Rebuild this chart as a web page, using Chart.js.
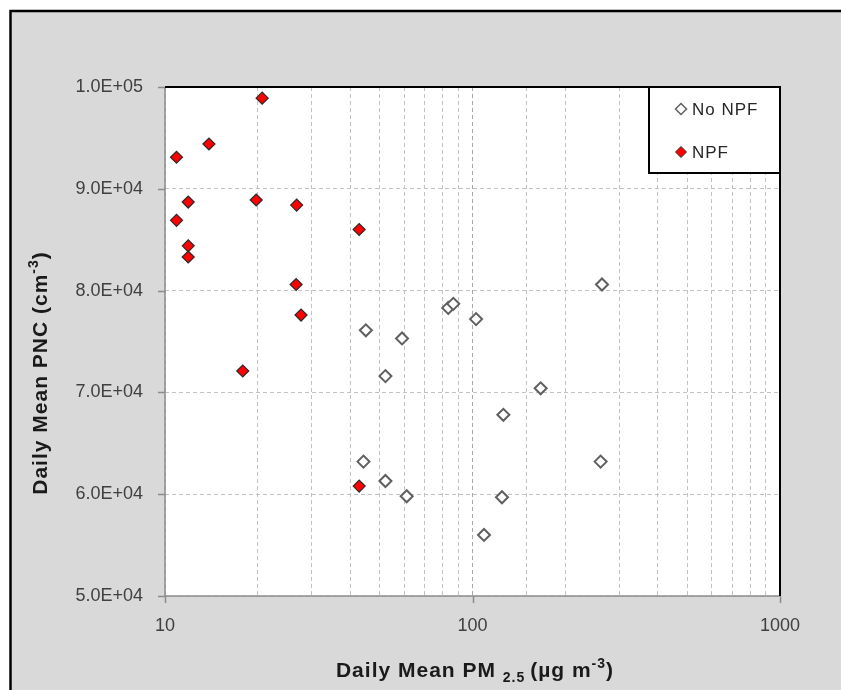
<!DOCTYPE html>
<html>
<head>
<meta charset="utf-8">
<script src="https://cdn.jsdelivr.net/npm/chart.js@4.4.0/dist/chart.umd.min.js"></script>
<style>
  html, body { margin: 0; padding: 0; background: #fff; }
</style>
</head>
<body>
<canvas id="pncChart" width="841" height="690"></canvas>
<script>
// values (PM2.5 in ug/m3, PNC in cm-3)
const noNpfPm = [45.0, 59.0, 52.1, 83.4, 86.6, 102.7, 263.7, 166.6, 126.0, 261.0, 44.2, 52.1, 61.1, 124.7, 109.0];
const noNpfPnc = [76100, 75300, 71600, 78300, 78700, 77200, 80600, 70400, 67800, 63200, 63200, 61300, 59800, 59700, 56000];
const npfPm = [20.7, 10.9, 13.9, 10.9, 11.9, 11.9, 11.9, 19.8, 26.8, 42.8, 26.7, 27.7, 17.9, 42.8];
const npfPnc = [98900, 93100, 94400, 86900, 88700, 84400, 83300, 88900, 88400, 86000, 80600, 77600, 72100, 60800];

const seriesLabels = ['No NPF', 'NPF'];
const xTickLabels = [10, 100, 1000];
const yTickValues = [50000, 60000, 70000, 80000, 90000, 100000];

const xTitle = [['Daily Mean PM ', 0], ['2.5 ', 1], ['(\u00b5g m', 0], ['-3', -1], [')', 0]];
const yTitle = [['Daily Mean PNC (cm', 0], ['-3', -1], [')', 0]];

function sci(v) {
    const exp = Math.floor(Math.log10(v));
    const mant = (v / Math.pow(10, exp)).toFixed(1);
    return mant + 'E+' + String(exp).padStart(2, '0');
}

function diamond(ctx, x, y, r, fill, stroke, lw) {
    ctx.beginPath();
    ctx.moveTo(x - r, y);
    ctx.lineTo(x, y - r);
    ctx.lineTo(x + r, y);
    ctx.lineTo(x, y + r);
    ctx.closePath();
    ctx.fillStyle = fill;
    ctx.fill();
    ctx.lineWidth = lw;
    ctx.strokeStyle = stroke;
    ctx.stroke();
}

// text with sub/superscript pieces, centred on x
function drawRuns(ctx, runs, x, y) {
    const big = 'bold 21px "Liberation Sans", Arial, sans-serif';
    const small = 'bold 14px "Liberation Sans", Arial, sans-serif';
    ctx.letterSpacing = '1px';
    let total = 0;
    runs.forEach(r => {
        ctx.font = r[1] === 0 ? big : small;
        total += ctx.measureText(r[0]).width;
    });
    let cx = x - total / 2;
    ctx.textAlign = 'left';
    ctx.textBaseline = 'alphabetic';
    runs.forEach(r => {
        ctx.font = r[1] === 0 ? big : small;
        const dy = r[1] === 1 ? 5 : (r[1] === -1 ? -9 : 0);
        ctx.fillText(r[0], cx, y + dy);
        cx += ctx.measureText(r[0]).width;
    });
    ctx.letterSpacing = '0px';
}

const pagePlugin = {
    id: 'page',
    beforeDraw(chart) {
        const ctx = chart.ctx;
        const a = chart.chartArea;
        ctx.save();
        ctx.fillStyle = '#ffffff';
        ctx.fillRect(0, 0, chart.width, chart.height);
        ctx.fillStyle = '#d9d9d9';
        ctx.fillRect(10, 10, chart.width, chart.height);
        ctx.strokeStyle = '#000';
        ctx.lineWidth = 2.5;
        ctx.beginPath();
        ctx.moveTo(10.5, chart.height + 5);
        ctx.lineTo(10.5, 11);
        ctx.lineTo(chart.width + 5, 11);
        ctx.stroke();
        ctx.fillStyle = '#ffffff';
        ctx.fillRect(a.left, a.top, a.right - a.left, a.bottom - a.top);
        ctx.restore();
    },
    beforeDatasetsDraw(chart) {
        const ctx = chart.ctx;
        const a = chart.chartArea;
        const xs = chart.scales.x, ys = chart.scales.y;
        ctx.save();
        // axis lines and tick marks
        ctx.strokeStyle = '#8c8c8c';
        ctx.lineWidth = 1.5;
        ctx.beginPath();
        ctx.moveTo(a.left, a.top);
        ctx.lineTo(a.left, a.bottom);
        ctx.lineTo(a.right, a.bottom);
        yTickValues.forEach(v => {
            const py = Math.round(ys.getPixelForValue(v)) + 0.5;
            ctx.moveTo(a.left - 7, py);
            ctx.lineTo(a.left, py);
        });
        xTickLabels.forEach(v => {
            const px = Math.round(xs.getPixelForValue(v)) + 0.5;
            ctx.moveTo(px, a.bottom);
            ctx.lineTo(px, a.bottom + 7);
        });
        ctx.stroke();
        // plot area frame on top and right
        ctx.strokeStyle = '#000';
        ctx.lineWidth = 2;
        ctx.beginPath();
        ctx.moveTo(a.left, a.top);
        ctx.lineTo(a.right, a.top);
        ctx.lineTo(a.right, a.bottom);
        ctx.stroke();
        ctx.restore();
    },
    afterDraw(chart) {
        const ctx = chart.ctx;
        const a = chart.chartArea;
        const ds = chart.data.datasets;
        ctx.save();
        // legend box
        const lx = 649, ly = a.top, lw = a.right - 649, lh = 86;
        ctx.fillStyle = '#fff';
        ctx.fillRect(lx, ly, lw, lh);
        ctx.strokeStyle = '#000';
        ctx.lineWidth = 2;
        ctx.strokeRect(lx, ly, lw, lh);
        ctx.font = '17px "Liberation Sans", Arial, sans-serif';
        ctx.letterSpacing = '1px';
        ctx.textBaseline = 'middle';
        ctx.textAlign = 'left';
        const rows = [ly + 22, ly + 65];
        ds.forEach((d, i) => {
            diamond(ctx, 681, rows[i], 5.5, d.backgroundColor, d.borderColor, i === 0 ? 1.5 : 1);
            ctx.fillStyle = '#262626';
            ctx.fillText(d.label, 692, rows[i] + 1);
        });
        ctx.letterSpacing = '0px';
        // axis titles
        ctx.fillStyle = '#1a1a1a';
        drawRuns(ctx, xTitle, 475, 677);
        ctx.translate(47, 373);
        ctx.rotate(-Math.PI / 2);
        drawRuns(ctx, yTitle, 0, 0);
        ctx.restore();
    }
};

const tickFont = { family: '"Liberation Sans", Arial, sans-serif', size: 18 };

new Chart(document.getElementById('pncChart'), {
    type: 'scatter',
    data: {
        datasets: [{
            label: seriesLabels[0],
            data: noNpfPm.map((x, i) => ({ x: x, y: noNpfPnc[i] })),
            pointStyle: 'rectRot',
            pointRadius: 6,
            pointHoverRadius: 6,
            backgroundColor: '#ffffff',
            borderColor: '#5f5f5f',
            borderWidth: 2
        }, {
            label: seriesLabels[1],
            data: npfPm.map((x, i) => ({ x: x, y: npfPnc[i] })),
            pointStyle: 'rectRot',
            pointRadius: 6,
            pointHoverRadius: 6,
            backgroundColor: '#ff0000',
            borderColor: '#2b2b2b',
            borderWidth: 1.2
        }]
    },
    options: {
        responsive: false,
        animation: false,
        layout: { padding: { left: 0, top: 87, right: 61, bottom: 0 } },
        plugins: {
            legend: { display: false },
            tooltip: { enabled: false }
        },
        scales: {
            x: {
                type: 'logarithmic',
                min: 10,
                max: 1000,
                afterFit: s => { s.height = 690 - 596; },
                grid: {
                    color: c => Math.round(c.tick.value) === 100 ? '#a8a8a8' : '#c2c2c2',
                    lineWidth: 1,
                    drawTicks: false
                },
                border: { display: false, dash: [4, 3] },
                ticks: {
                    autoSkip: false,
                    maxRotation: 0,
                    padding: 19,
                    color: '#404040',
                    font: tickFont,
                    callback: v => xTickLabels.includes(Math.round(v)) ? String(Math.round(v)) : ''
                }
            },
            y: {
                min: 50000,
                max: 100000,
                afterFit: s => { s.width = 165; },
                afterBuildTicks: s => { s.ticks = yTickValues.map(v => ({ value: v })); },
                grid: { color: '#c2c2c2', lineWidth: 1, drawTicks: false },
                border: { display: false, dash: [4, 3] },
                ticks: {
                    padding: 22,
                    color: '#404040',
                    font: tickFont,
                    callback: v => sci(v)
                }
            }
        }
    },
    plugins: [pagePlugin]
});
</script>
</body>
</html>
